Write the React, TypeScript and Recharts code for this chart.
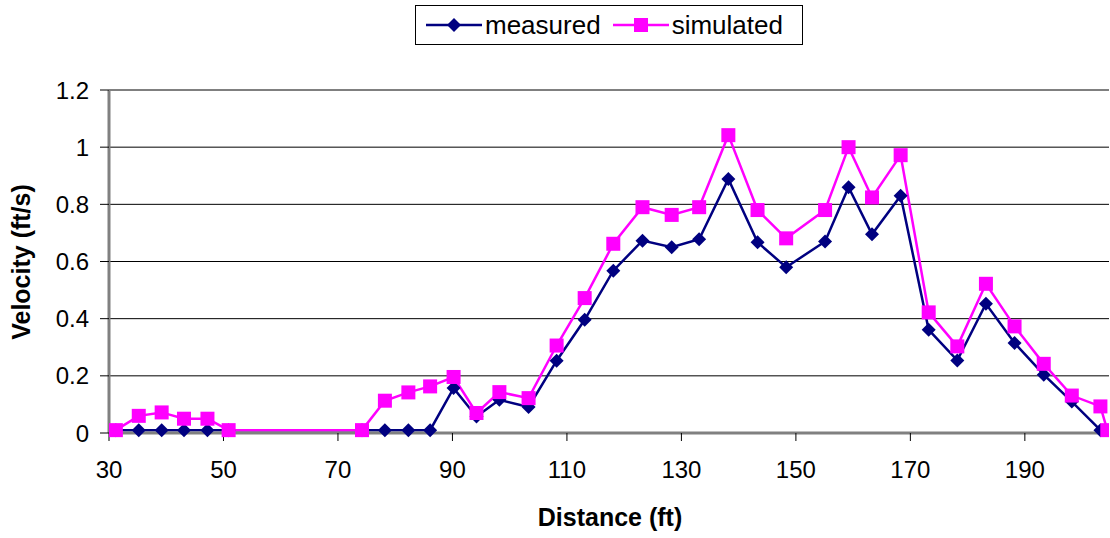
import React from 'react';
import { LineChart, Line, XAxis, YAxis, CartesianGrid, Label } from 'recharts';

// Distance along the transect (ft)
const distance = [
    31.2, 35.2, 39.2, 43.1, 47.2, 50.9, 74.2, 78.2, 82.3, 86.1, 90.2, 94.2, 98.2, 103.3, 108.2, 113.1, 118.1,
    123.2, 128.3, 133.1, 138.2, 143.3, 148.3, 155.1, 159.2, 163.3, 168.3, 173.2, 178.2, 183.2, 188.2, 193.3,
    198.2, 203.2, 204.4,
];

const measured: (number | null)[] = [
    0.01, 0.01, 0.01, 0.01, 0.01, 0.01, 0.01, 0.01, 0.01, 0.01, 0.157, 0.058, 0.116, 0.091, 0.253, 0.396, 0.568,
    0.673, 0.65, 0.678, 0.889, 0.667, 0.58, 0.67, 0.86, 0.695, 0.83, 0.361, 0.254, 0.452, 0.315, 0.204,
    0.11, 0.01, null,
];

const simulated = [
    0.01, 0.06, 0.072, 0.05, 0.05, 0.01, 0.01, 0.113, 0.142, 0.163, 0.196, 0.07, 0.143, 0.122, 0.306, 0.472, 0.662,
    0.79, 0.763, 0.79, 1.042, 0.78, 0.681, 0.78, 1.0, 0.824, 0.972, 0.422, 0.303, 0.522, 0.373, 0.242,
    0.131, 0.093, 0.01,
];

const xTicks = [30, 50, 70, 90, 110, 130, 150, 170, 190];
const yTicks = [0, 0.2, 0.4, 0.6, 0.8, 1, 1.2];

const NAVY = '#000080';
const MAGENTA = '#FF00FF';
const FONT = '"Liberation Sans", Arial, sans-serif';

const data = distance.map((x, i) => ({ x, measured: measured[i], simulated: simulated[i] }));

const DiamondDot = (props: any) => {
    const { cx, cy, index } = props;
    if (cx == null || cy == null || props.value == null) return <g key={`d-${index}`} />;
    const r = 7;
    return (
        <polygon
            key={`d-${index}`}
            points={`${cx},${cy - r} ${cx + r},${cy} ${cx},${cy + r} ${cx - r},${cy}`}
            fill={NAVY}
        />
    );
};

const SquareDot = (props: any) => {
    const { cx, cy, index } = props;
    if (cx == null || cy == null) return <g key={`s-${index}`} />;
    const h = 7;
    return <rect key={`s-${index}`} x={cx - h} y={cy - h} width={h * 2} height={h * 2} fill={MAGENTA} />;
};

// legend drawn as a plain box above the plot, like the Excel original
const LegendBox = () => (
    <div
        style={{
            position: 'absolute',
            left: 415,
            top: 5,
            width: 388,
            height: 40,
            border: '1px solid #000',
            background: '#fff',
            display: 'flex',
            alignItems: 'center',
            fontFamily: FONT,
            fontSize: 26,
            color: '#000',
            boxSizing: 'border-box',
        }}
    >
        <svg width={56} height={20} style={{ marginLeft: 10 }}>
            <line x1={0} y1={10} x2={56} y2={10} stroke={NAVY} strokeWidth={2.5} />
            <polygon points="28,3 35,10 28,17 21,10" fill={NAVY} />
        </svg>
        <span style={{ marginLeft: 3 }}>measured</span>
        <svg width={56} height={20} style={{ marginLeft: 12 }}>
            <line x1={0} y1={10} x2={56} y2={10} stroke={MAGENTA} strokeWidth={2.5} />
            <rect x={21} y={3} width={14} height={14} fill={MAGENTA} />
        </svg>
        <span style={{ marginLeft: 3 }}>simulated</span>
    </div>
);

export default function App() {
    return (
        <div style={{ position: 'absolute', left: 0, top: 0, width: 1110, height: 538, background: '#fff' }}>
            <LineChart
                width={1110}
                height={538}
                data={data}
                margin={{ top: 90, right: 1, left: 0, bottom: 0 }}
            >
                <CartesianGrid vertical={false} stroke="#000" strokeWidth={1} />
                <XAxis
                    dataKey="x"
                    type="number"
                    domain={[30, 204.7]}
                    ticks={xTicks}
                    allowDataOverflow
                    height={105}
                    axisLine={{ stroke: '#808080', strokeWidth: 3 }}
                    tickLine={{ stroke: '#000' }}
                    tickSize={8}
                    tickMargin={20}
                    tick={{ fill: '#000', fontSize: 24, fontFamily: FONT }}
                >
                    <Label
                        content={() => (
                            <text x={610} y={526} textAnchor="middle" fontFamily={FONT} fontSize={25} fontWeight="bold" fill="#000">
                                Distance (ft)
                            </text>
                        )}
                    />
                </XAxis>
                <YAxis
                    type="number"
                    domain={[0, 1.2]}
                    ticks={yTicks}
                    width={109}
                    axisLine={{ stroke: '#808080', strokeWidth: 3 }}
                    tickLine={{ stroke: '#000' }}
                    tickSize={9}
                    tickMargin={11}
                    tick={{ fill: '#000', fontSize: 24, fontFamily: FONT }}
                >
                    <Label
                        content={() => (
                            <text
                                x={30}
                                y={262}
                                transform="rotate(-90 30 262)"
                                textAnchor="middle"
                                fontFamily={FONT}
                                fontSize={25}
                                fontWeight="bold"
                                fill="#000"
                            >
                                Velocity (ft/s)
                            </text>
                        )}
                    />
                </YAxis>
                <Line
                    dataKey="measured"
                    name="measured"
                    stroke={NAVY}
                    strokeWidth={2.5}
                    dot={(p: any) => <DiamondDot {...p} />}
                    activeDot={false}
                    isAnimationActive={false}
                />
                <Line
                    dataKey="simulated"
                    name="simulated"
                    stroke={MAGENTA}
                    strokeWidth={2.5}
                    dot={(p: any) => <SquareDot {...p} />}
                    activeDot={false}
                    isAnimationActive={false}
                />
            </LineChart>
            <LegendBox />
        </div>
    );
}
